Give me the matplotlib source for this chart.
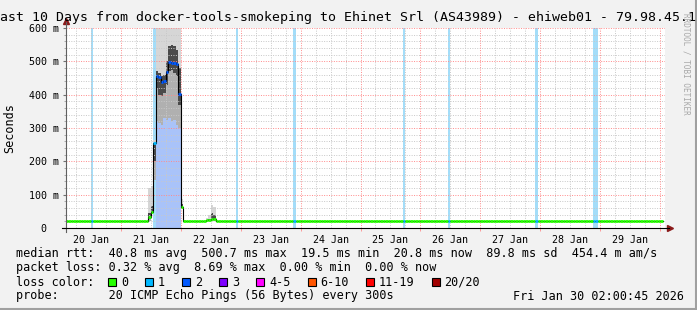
import matplotlib
matplotlib.use("Agg")
import matplotlib.pyplot as plt
from matplotlib.lines import Line2D
from matplotlib.patches import Rectangle
import numpy as np

W, H = 697, 310
MONO = "DejaVu Sans Mono"

title = "Last 10 Days from docker-tools-smokeping to Ehinet Srl (AS43989) - ehiweb01 - 79.98.45.11"
day_labels = ["20 Jan", "21 Jan", "22 Jan", "23 Jan", "24 Jan",
              "25 Jan", "26 Jan", "27 Jan", "28 Jan", "29 Jan"]
y_ticks = [0, 100, 200, 300, 400, 500, 600]
y_tick_labels = ["0  ", "100 m", "200 m", "300 m", "400 m", "500 m", "600 m"]

# hours since 20 Jan 00:00, hourly bins; a median value holds until the next entry
med_hours = [2, 35, 36, 37, 38, 39, 40, 41, 42, 43, 44, 45, 46, 47, 48, 49, 58, 60, 62]
med_ms = [20.5, 33, 48, 255, 456, 453, 438, 440, 468, 498, 494, 495, 491, 402, 63, 20.5, 23, 28, 20.5]
last_hour = 241

# hours with packet loss (pings lost out of 20)
loss_hours = [12, 37, 38, 39, 40, 41, 42, 43, 44, 45, 46, 47, 70, 93, 137, 155, 190, 213, 214]
loss_pings = [1, 1, 2, 2, 2, 2, 2, 2, 2, 2, 2, 2, 1, 1, 1, 1, 1, 1, 1]

# smoke (ping spread) where it is visible, ms
smoke_hours = [35, 36, 37, 38, 39, 40, 41, 42, 43, 44, 45, 46, 47, 48, 58, 59, 60, 61]
smoke_lo = [22, 42, 145, 320, 315, 310, 330, 325, 330, 320, 325, 310, 300, 60, 20, 20, 21, 21]
smoke_q1 = [26, 48, 200, 420, 400, 395, 405, 430, 470, 475, 465, 455, 370, 63, 21, 22, 25, 24]
smoke_q3 = [45, 65, 255, 470, 465, 455, 460, 500, 545, 550, 545, 535, 480, 72, 25, 28, 45, 40]
smoke_hi = [120, 125, 265, 650, 650, 650, 650, 650, 650, 650, 650, 640, 620, 88, 30, 40, 70, 62]

stats_rtt = "median rtt:  40.8 ms avg  500.7 ms max  19.5 ms min  20.8 ms now  89.8 ms sd  454.4 m am/s"
stats_loss = "packet loss: 0.32 % avg  8.69 % max  0.00 % min  0.00 % now"
probe_text = "probe:       20 ICMP Echo Pings (56 Bytes) every 300s"
stamp = "Fri Jan 30 02:00:45 2026"

loss_labels = ["0", "1", "2", "3", "4-5", "6-10", "11-19", "20/20"]
loss_colors = ["#26ff00", "#00b8ff", "#0059ff", "#7e00ff", "#ff00ff", "#ff5500", "#ff0000", "#a10000"]
loss_bg = {1: "#a3ddf9", 2: "#a9c3f9"}


def px(x, y):
    return x / W, 1 - y / H


fig = plt.figure(figsize=(W / 100, H / 100), dpi=100, facecolor="#f2f2f2")
ax = fig.add_axes([66 / W, 1 - 228 / H, 599 / W, 200 / H])
ax.set_facecolor("white")
ax.set_xlim(2, 242)
ax.set_ylim(0, 600)
for s in ax.spines.values():
    s.set_visible(False)

# loss background bands
for h, n in zip(loss_hours, loss_pings):
    ax.axvspan(h, h + 1, color=loss_bg[n], lw=0, zorder=0.5)

# smoke
sh = np.array(smoke_hours)
lo, q1, q3, hi = map(np.array, (smoke_lo, smoke_q1, smoke_q3, smoke_hi))
ax.bar(sh, q1 - lo, bottom=lo, width=1, align="edge", color="#b0b0b0", lw=0, zorder=1)
ax.bar(sh, q3 - q1, bottom=q1, width=1, align="edge", color="#4a4a4a", lw=0, zorder=1)
ax.bar(sh, hi - q3, bottom=q3, width=1, align="edge", color="#d6d6d6", lw=0, zorder=1)

# grid
for v in range(20, 600, 20):
    if v % 100:
        ax.axhline(v, color="#c8c8c8", lw=0.7, ls=(0, (1, 1.5)), zorder=2)
for v in range(100, 601, 100):
    ax.axhline(v, color="#ff8a8a", lw=0.7, ls=(0, (1, 1.5)), zorder=2)
for h in range(6, 242, 6):
    if h % 24:
        ax.axvline(h, color="#c8c8c8", lw=0.7, ls=(0, (1, 1.5)), zorder=2)
for h in range(24, 242, 24):
    ax.axvline(h, color="#ff8a8a", lw=0.7, ls=(0, (1, 1.5)), zorder=2)

# median line, coloured by loss
hours = np.arange(med_hours[0], last_hour)
idx = np.searchsorted(med_hours, hours, side="right") - 1
med = np.array(med_ms)[idx]
loss_map = dict(zip(loss_hours, loss_pings))
cols = [loss_colors[loss_map.get(h, 0)] for h in hours]
ax.step(np.append(hours, last_hour), np.append(med, med[-1]), where="post",
        color="black", lw=0.8, zorder=3)
ax.hlines(med, hours, hours + 1, colors=cols, lw=2, zorder=4)

# ticks
ax.set_yticks(y_ticks, y_tick_labels)
ax.set_yticks(range(0, 601, 20), minor=True)
ax.set_xticks(range(12, 242, 24), day_labels)
ax.set_xticks(range(24, 242, 24), minor=True)
ax.tick_params(axis="y", which="major", length=2, pad=3, color="#707070",
               labelsize=7.2, labelfontfamily=MONO)
ax.tick_params(axis="y", which="minor", length=1.5, color="#a0a0a0")
ax.tick_params(axis="x", which="major", length=0, pad=5, labelsize=7.2, labelfontfamily=MONO)
ax.tick_params(axis="x", which="minor", length=2.5, color="#ff8a8a")

# axis lines and arrows
ax.add_line(Line2D([0, 0], [-0.02, 1.03], transform=ax.transAxes, color="#606060",
                   lw=0.8, clip_on=False, zorder=5))
ax.add_line(Line2D([-0.007, 1.006], [0, 0], transform=ax.transAxes, color="black",
                   lw=0.8, clip_on=False, zorder=5))
ax.plot([0], [1.035], marker="^", color="#8b1a1a", ms=4, transform=ax.transAxes, clip_on=False)
ax.plot([1.009], [0], marker=">", color="#8b1a1a", ms=4, transform=ax.transAxes, clip_on=False)

# texts
fig.text(*px(348.5, 18), title, ha="center", va="center", family=MONO, size=9.5)
fig.text(*px(10, 128), "Seconds", rotation=90, ha="center", va="center", family=MONO, size=8.5)
fig.text(*px(686, 13), "RRDTOOL / TOBI OETIKER", rotation=270, ha="center", va="top",
         family=MONO, size=5.5, color="#a8a8a8")

fig.text(*px(16, 254), stats_rtt, va="center", family=MONO, size=8.5)
fig.text(*px(16, 268), stats_loss, va="center", family=MONO, size=8.5)
fig.text(*px(16, 282), "loss color:", va="center", family=MONO, size=8.5)
fig.text(*px(16, 296), probe_text, va="center", family=MONO, size=8.5)
fig.text(*px(513, 296), stamp, va="center", family=MONO, size=8.5)

bx = 108
for lab, c in zip(loss_labels, loss_colors):
    fig.add_artist(Rectangle(px(bx, 286), 8 / W, 8 / H, transform=fig.transFigure,
                             facecolor=c, edgecolor="black", lw=0.8))
    fig.text(*px(bx + 13, 282), lab, va="center", family=MONO, size=8.5)
    bx += len(lab) * 7.1 + 30

# frame shadow
fig.add_artist(Line2D([0, 1], [1 / H, 1 / H], transform=fig.transFigure, color="#a0a0a0", lw=1.5))
fig.add_artist(Line2D([1 - 1 / W, 1 - 1 / W], [0, 1], transform=fig.transFigure, color="#a0a0a0", lw=1.5))

fig.savefig("out.png", dpi=100, facecolor=fig.get_facecolor())
